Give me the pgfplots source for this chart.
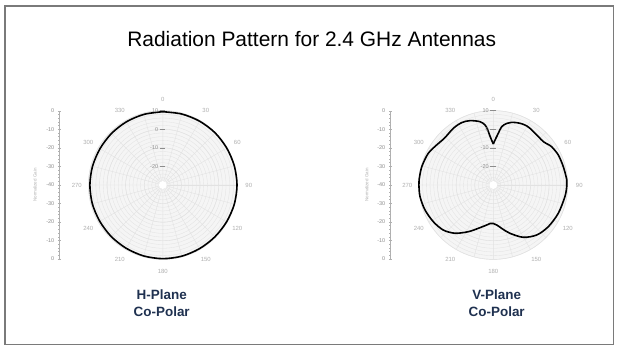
\documentclass[border=0pt]{standalone}
\usepackage{pgfplots}
\pgfplotsset{compat=1.18}
\usepackage{pgfplotstable}
\usepgfplotslibrary{polar}
\usepackage{fontspec}
\setmainfont{Liberation Sans}
\definecolor{navy}{HTML}{1F3150}
\definecolor{lab}{HTML}{B0B0B0}
\definecolor{rlab}{HTML}{8C8C8C}
\definecolor{gridc}{HTML}{E2E2E2}
\definecolor{disk}{HTML}{F5F5F5}
\definecolor{framec}{HTML}{7A7A7A}

% angle (deg, clockwise from top), normalized gain (dB)
\pgfplotstableread{
ang db
0 9.4
15 9.5
30 9.6
45 9.7
60 9.7
75 9.8
90 9.9
105 9.8
120 9.6
135 9.5
150 9.5
165 9.6
180 9.6
195 9.5
210 9.3
225 9.2
240 9.1
255 9.2
270 9.2
285 9.1
300 9.0
315 9.1
330 9.2
345 9.3
360 9.4
}\hplane

\pgfplotstableread{
ang db
0 -8.0
2 -6.0
5.5 -2.1
8.2 1.7
12.3 3.9
16 5.0
20.6 5.8
25 6.3
29.5 6.5
34 6.2
38.9 5.7
44 5.5
49.1 5.6
53 6.5
56.7 7.5
65.2 8.5
75.3 8.9
86 9.6
91 9.5
99.3 9.0
113.5 8.1
127.2 7.1
139 5.6
150.2 2.4
160.9 -2.5
168 -5.8
175 -8.4
180 -9.3
185 -9.2
189.4 -8.2
199 -5.4
208.2 -1.5
218.4 3.1
228 6.2
238.5 7.8
249.9 9.1
261 9.9
270 10.0
274 10.0
284.3 9.7
296 8.9
305.2 7.3
314 6.4
324.8 7.3
333.1 7.6
340.1 6.8
348.1 4.8
352.1 2.6
354 0.2
356 -3.5
358 -6.0
360 -8.0
}\vplane

\pgfplotsset{
  mypolar/.style={
    anchor=center, scale only axis, width=148.8bp, height=148.8bp,
    xmin=0, xmax=360, ymin=0, ymax=40,
    xtick={0,15,...,345}, xticklabels={},
    ytick={10,20,30,40}, minor ytick={2,4,...,38}, yticklabels={},
    grid=both,
    major grid style={draw=gridc, line width=0.4bp},
    minor grid style={draw=gridc, line width=0.3bp},
    axis line style={draw=gridc},
    tick style={draw=none},
    axis background/.style={fill=disk},
    clip=false,
  },
  myscale/.style={
    anchor=south west, scale only axis, width=1bp, height=148.3bp,
    xmin=0, xmax=1, ymin=0, ymax=8,
    axis x line=none, axis y line=left,
    axis line style={-, draw=lab, line width=0.5bp},
    ytick={0,...,8},
    yticklabels={0,-10,-20,-30,-40,-30,-20,-10,0},
    minor y tick num=4,
    tick align=center,
    major tick length=3bp, minor tick length=2bp,
    tick style={draw=lab, line width=0.4bp},
    yticklabel style={font=\fontsize{5.5}{6}\selectfont, text=rlab},
    /pgf/number format/assume math mode=true,
  },
}

\begin{document}
\begin{tikzpicture}
\begin{scope}[x=1bp,y=1bp]
\fill[white] (0,0) rectangle (619,352);
\path[use as bounding box] (0,0) rectangle (619,352);
\draw[framec, line width=1.5bp] (4.8,7.5) rectangle (613.3,346.2);
\node[font=\fontsize{21}{24}\selectfont, anchor=base] at (311.7,305.3)
  {Radiation Pattern for 2.4 GHz Antennas};
\end{scope}

% ---- H-plane ----
\begin{polaraxis}[mypolar, at={(162.8bp,167bp)}]
\addplot[black, line width=1.6bp, smooth] table[x expr=90-\thisrow{ang}, y expr=\thisrow{db}+30]{\hplane};
\end{polaraxis}

% ---- V-plane ----
\begin{polaraxis}[mypolar, at={(493.3bp,167bp)}]
\addplot[black, line width=1.6bp, smooth] table[x expr=90-\thisrow{ang}, y expr=\thisrow{db}+30]{\vplane};
\end{polaraxis}

% left scales
\begin{axis}[myscale, at={(59.3bp,93bp)}]
\end{axis}
\begin{axis}[myscale, at={(390.3bp,93bp)}]
\end{axis}

\begin{scope}[x=1bp,y=1bp]
% centre holes, angle labels and radial labels
\foreach \cx in {162.8,493.3}{
  \fill[white] (\cx,167) circle (4);
  \foreach \t in {0,30,...,330}{
    \node[font=\fontsize{6}{7}\selectfont, text=lab] at ([shift={({90-\t}:86)}]\cx,167) {\t};
  }
  \foreach \r/\l in {10/-20,20/-10,30/0,40/10}{
    \node[font=\fontsize{5.5}{6}\selectfont, text=rlab, anchor=east, inner sep=0.5bp] at (\cx-4,{167+1.86*\r}) {\l};
    \draw[rlab, line width=0.6bp] (\cx-3,{167+1.86*\r}) -- (\cx+2.5,{167+1.86*\r});
  }
}
\node[rotate=90, font=\fontsize{4.5}{5}\selectfont, text=lab] at (35,167) {Normalized Gain};
\node[rotate=90, font=\fontsize{4.5}{5}\selectfont, text=lab] at (366.7,167) {Normalized Gain};

% captions
\node[font=\bfseries\fontsize{13.5}{16.7}\selectfont, text=navy, align=center] at (161.7,48.7) {H-Plane\\Co-Polar};
\node[font=\bfseries\fontsize{13.5}{16.7}\selectfont, text=navy, align=center] at (496.7,48.7) {V-Plane\\Co-Polar};
\end{scope}
\end{tikzpicture}
\end{document}
